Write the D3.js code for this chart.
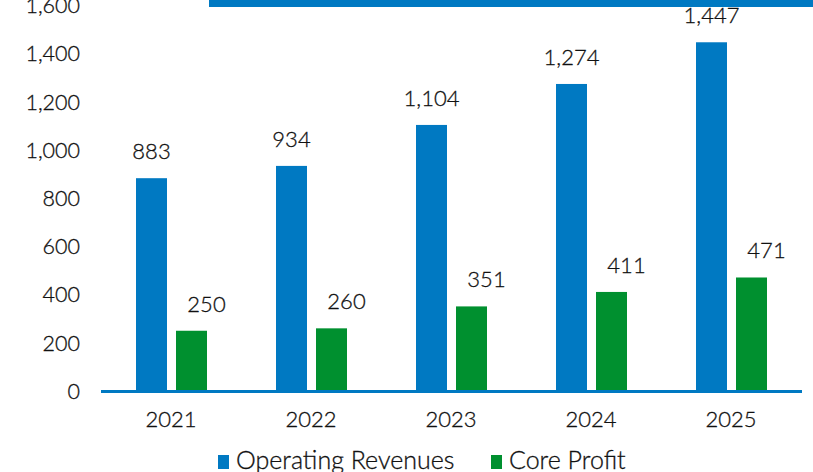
<!DOCTYPE html>
<html><head><meta charset="utf-8">
<script src="https://cdn.jsdelivr.net/npm/d3@7"></script>
<style>body{margin:0;background:#fff}svg{display:block}</style>
</head><body><svg id="c" width="813" height="472"></svg>
<script>
const categories = ["2021","2022","2023","2024","2025"];
const operatingRevenues = [883, 934, 1104, 1274, 1447];
const coreProfit = [250, 260, 351, 411, 471];
const seriesNames = ["Operating Revenues", "Core Profit"];
const yTicks = [0,200,400,600,800,1000,1200,1400,1600];

const W=813,H=472;
const svg=d3.select("#c");
const font="Lato, 'Open Sans', sans-serif";
const blue="#0079C2", green="#00902F", textC="#111";
const m={l:101,r:12};
const x=d3.scaleBand().domain(categories).range([m.l,W-m.r]);
const y=d3.scaleLinear().domain([0,1600]).range([391,5.4]);
const fmt=d3.format(",");

// banner
svg.append("rect").attr("x",209).attr("y",0).attr("width",W-209).attr("height",7).attr("fill",blue);

// y axis labels
svg.append("g").selectAll("text").data(yTicks).join("text")
  .attr("x",80).attr("y",d=>y(d)).attr("dy","0.36em").attr("text-anchor","end")
  .attr("font-family",font).attr("font-size",21.5).attr("font-weight",300).attr("fill",textC)
  .attr("stroke",textC).attr("stroke-width",0.3)
  .text(d=>fmt(d));

const series=[operatingRevenues, coreProfit];
const colors=[blue,green];
series.forEach((vals,si)=>{
  const g=svg.append("g");
  const bw=31;
  const off = si===0?35:75;
  g.selectAll("rect").data(vals).join("rect")
    .attr("x",(d,i)=>x(categories[i])+off).attr("width",bw)
    .attr("y",d=>y(d)).attr("height",d=>y(0)-y(d))
    .attr("fill",colors[si]);
  g.selectAll("text").data(vals).join("text")
    .attr("x",(d,i)=>x(categories[i])+off+bw/2+(si===1?15:0))
    .attr("y",d=>y(d)-19).attr("text-anchor","middle")
    .attr("font-family",font).attr("font-size",22).attr("font-weight",300).attr("fill",textC)
    .attr("stroke",textC).attr("stroke-width",0.3)
    .text(d=>fmt(d));
});

// baseline
svg.append("line").attr("x1",m.l).attr("x2",W-m.r+1).attr("y1",y(0)+0.5).attr("y2",y(0)+0.5)
  .attr("stroke",blue).attr("stroke-width",3);

// x labels
svg.append("g").selectAll("text").data(categories).join("text")
  .attr("x",d=>x(d)+x.bandwidth()/2).attr("y",427).attr("text-anchor","middle")
  .attr("font-family",font).attr("font-size",22).attr("font-weight",300).attr("fill",textC)
  .attr("stroke",textC).attr("stroke-width",0.3).text(d=>d);

// legend
const leg=[{n:seriesNames[0],c:blue,x:218},{n:seriesNames[1],c:green,x:491}];
const lg=svg.append("g");
leg.forEach(l=>{
  lg.append("rect").attr("x",l.x).attr("y",455).attr("width",11).attr("height",14).attr("fill",l.c);
  lg.append("text").attr("x",l.x+18).attr("y",469).attr("font-family",font).attr("font-size",25)
    .attr("font-weight",300).attr("fill",textC).attr("stroke",textC).attr("stroke-width",0.3).text(l.n);
});
</script></body></html>
